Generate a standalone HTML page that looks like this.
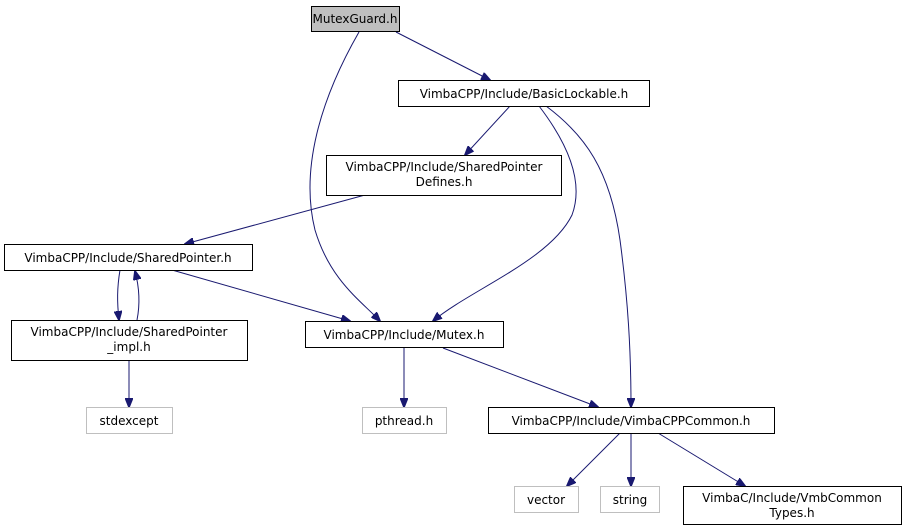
<!DOCTYPE html>
<html><head><meta charset="utf-8"><style>
html,body{margin:0;padding:0;background:#fff;}
svg{display:block;}
text{font-family:"DejaVu Sans","Liberation Sans",sans-serif;font-size:12px;fill:#000;}
.n{fill:#fff;stroke:#000;stroke-width:1;}
.g{fill:#fff;stroke:#bfbfbf;stroke-width:1;}
.e{fill:none;stroke:#191970;stroke-width:1;}
.a{fill:#191970;stroke:#191970;}
</style></head><body>
<svg width="907" height="529" viewBox="0 0 907 529" xmlns="http://www.w3.org/2000/svg">
<defs><marker id="m" markerWidth="10" markerHeight="8" refX="9" refY="4" orient="auto" markerUnits="userSpaceOnUse"><path d="M0,0 L10,4 L0,8 Z" class="a"/></marker></defs>
<path class="e" marker-end="url(#m)" d="M359,32 C320,100 300,170 315,230 C330,280 360,300 380,321"/>
<path class="e" marker-end="url(#m)" d="M396,32 L490,80"/>
<path class="e" marker-end="url(#m)" d="M510,106 L465,155"/>
<path class="e" marker-end="url(#m)" d="M539,106 C565,140 585,180 572,215 C550,260 470,290 433,321"/>
<path class="e" marker-end="url(#m)" d="M546,106 C585,135 610,170 620,240 C628,300 631,350 631,407"/>
<path class="e" marker-end="url(#m)" d="M365,195 L185,244"/>
<path class="e" marker-end="url(#m)" d="M120,270 C117,288 117,302 119,320"/>
<path class="e" marker-end="url(#m)" d="M137,320 C140,305 140,290 135,271"/>
<path class="e" marker-end="url(#m)" d="M172,270 L350,321"/>
<path class="e" marker-end="url(#m)" d="M129,360 L129,407"/>
<path class="e" marker-end="url(#m)" d="M404,348 L404,407"/>
<path class="e" marker-end="url(#m)" d="M443,348 L598,407"/>
<path class="e" marker-end="url(#m)" d="M620,433 L567,486"/>
<path class="e" marker-end="url(#m)" d="M631,433 L631,486"/>
<path class="e" marker-end="url(#m)" d="M658,433 L745,486"/>
<rect x="311.5" y="6.5" width="88" height="25" fill="#bfbfbf" stroke="#000"/>
<text x="355" y="23" text-anchor="middle">MutexGuard.h</text>
<rect class="n" x="398.5" y="80.5" width="251" height="26"/>
<text x="524" y="98" text-anchor="middle">VimbaCPP/Include/BasicLockable.h</text>
<rect class="n" x="326.5" y="155.5" width="235" height="40"/>
<text x="444" y="171" text-anchor="middle">VimbaCPP/Include/SharedPointer</text>
<text x="444" y="186" text-anchor="middle">Defines.h</text>
<rect class="n" x="4.5" y="244.5" width="248" height="26"/>
<text x="128" y="262" text-anchor="middle">VimbaCPP/Include/SharedPointer.h</text>
<rect class="n" x="11.5" y="320.5" width="236" height="40"/>
<text x="129" y="336" text-anchor="middle">VimbaCPP/Include/SharedPointer</text>
<text x="129" y="351" text-anchor="middle">_impl.h</text>
<rect class="n" x="305.5" y="321.5" width="198" height="26"/>
<text x="404" y="339" text-anchor="middle">VimbaCPP/Include/Mutex.h</text>
<rect class="g" x="86.5" y="407.5" width="86" height="26"/>
<text x="129" y="425" text-anchor="middle">stdexcept</text>
<rect class="g" x="362.5" y="407.5" width="84" height="26"/>
<text x="404" y="425" text-anchor="middle">pthread.h</text>
<rect class="n" x="488.5" y="407.5" width="286" height="26"/>
<text x="631" y="425" text-anchor="middle">VimbaCPP/Include/VimbaCPPCommon.h</text>
<rect class="g" x="514.5" y="486.5" width="64" height="26"/>
<text x="546" y="504" text-anchor="middle">vector</text>
<rect class="g" x="600.5" y="486.5" width="59" height="26"/>
<text x="630" y="504" text-anchor="middle">string</text>
<rect class="n" x="683.5" y="486.5" width="218" height="38"/>
<text x="792" y="502" text-anchor="middle">VimbaC/Include/VmbCommon</text>
<text x="792" y="517" text-anchor="middle">Types.h</text>
</svg>
</body></html>
